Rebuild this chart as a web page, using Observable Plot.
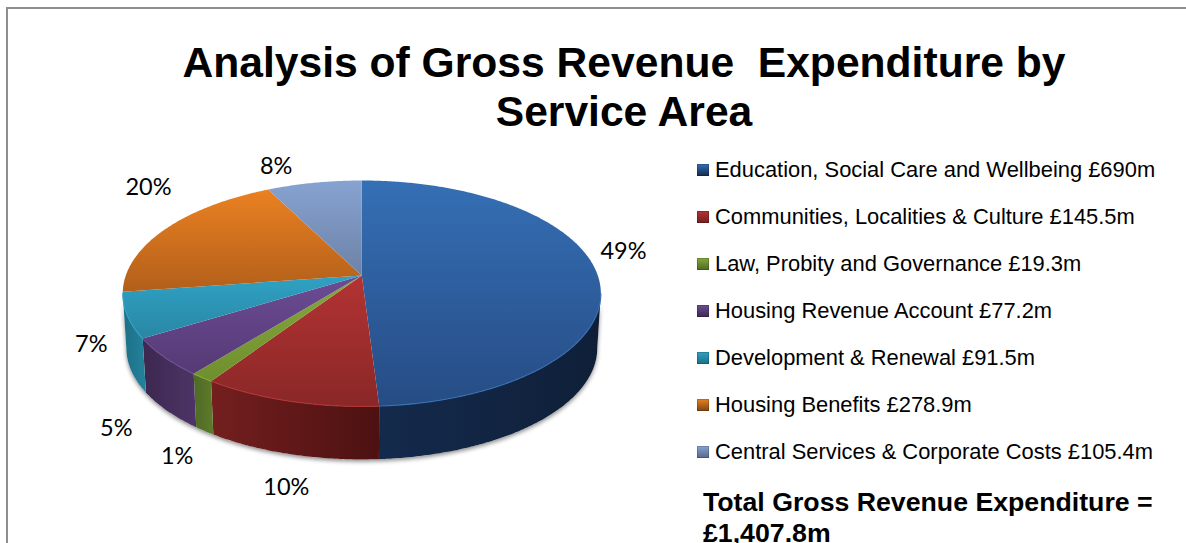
<!DOCTYPE html>
<html><head><meta charset="utf-8">
<script src="https://cdn.jsdelivr.net/npm/d3@7"></script>
<script src="https://cdn.jsdelivr.net/npm/@observablehq/plot@0.6"></script>
<style>
html,body{margin:0;padding:0;background:#fff;overflow:hidden}
#page{position:relative;width:1186px;height:543px;overflow:hidden;font-family:"Liberation Sans",Arial,sans-serif;color:#000}
#frame{position:absolute;left:6px;top:7px;width:1200px;height:600px;border:2px solid #8e8e8e;box-sizing:border-box}
#title{position:absolute;left:64px;width:1120px;top:38px;text-align:center;font-weight:bold;font-size:42.6px;line-height:49px;white-space:pre}
#chart{position:absolute;left:0;top:130px}
#legend{position:absolute;left:697px;top:146px;font-size:21.9px}
.row{display:flex;align-items:center;height:47px;white-space:pre}
.sw{width:12px;height:12px;margin-right:6px;flex:none;box-shadow:inset 0 0 0 1px rgba(0,0,0,.18)}
#total{position:absolute;left:703px;top:487px;font-weight:bold;font-size:26.7px;line-height:31px;white-space:pre}
</style></head><body>
<div id="page"><div id="frame"></div>
<div id="title"></div><div id="chart"></div><div id="legend"></div><div id="total"></div></div>
<script>
const titleLines = ["Analysis of Gross Revenue  Expenditure by", "Service Area"];
const categories = ["Education, Social Care and Wellbeing","Communities, Localities & Culture","Law, Probity and Governance","Housing Revenue Account","Development & Renewal","Housing Benefits","Central Services & Corporate Costs"];
const valueLabels = ["£690m","£145.5m","£19.3m","£77.2m","£91.5m","£278.9m","£105.4m"];
const values = [690,145.5,19.3,77.2,91.5,278.9,105.4];
const percentLabels = ["49%","10%","1%","5%","7%","20%","8%"];
const totalLines = ["Total Gross Revenue Expenditure =","£1,407.8m"];

// styles
const topColors = [["#356fb5","#264c84"],["#b33333","#8a2727"],["#85a83b","#6f8f2e"],["#6c4c95","#553a75"],["#2fa2c4","#2a86a4"],["#ea8122","#b25f1a"],["#87a3d2","#6d82a6"]];
const wallColors = [["#142a4c","#0f1f38"],["#741f1f","#4d1111"],["#4f6a24","#5e7a2b"],["#3c2850","#4e3466"],["#1c6f86","#25829c"],["#7c4512","#8c5015"],["#56688a","#5e7194"]];
const labelNudge = [[27,-21],[-3,86],[-25,79],[-48,71],[-36,29],[-18,-41],[-38,-16]];

// layout of the perspective disc
const W = 660, H = 413, cx = 361.3, cy = 145;
const R = 236, A = 110.1, K = 0.159, S = 0.985, D = 55;
const total = d3.sum(values);
const proj = t => { const u = Math.sin(t), v = -Math.cos(t), d = 1 - K*v; return [R*u/d, A*v/d]; };
let cum = 0;
const slices = values.map((v,i) => { const a0 = cum/total*2*Math.PI; cum += v; return {i, a0, a1: cum/total*2*Math.PI}; });
const sample = (a0,a1) => { const n = Math.max(2, Math.ceil((a1-a0)/0.01)); return d3.range(n+1).map(j => a0 + (a1-a0)*j/n); };
const wallLo = Math.PI - Math.acos(K), wallHi = Math.PI + Math.acos(K);

const topFace = s => [[0,0], ...sample(s.a0,s.a1).map(proj)];
const arcIn = s => { const a0 = Math.max(s.a0,wallLo), a1 = Math.min(s.a1,wallHi); return a1 > a0 ? sample(a0,a1) : null; };
const wall = s => { const t = arcIn(s); if (!t) return null; const p = t.map(proj);
  return [...p, ...p.slice().reverse().map(([x,y]) => [x*S, y*S + D])]; };

const defs = () => {
  const svgns = "http://www.w3.org/2000/svg", d = document.createElementNS(svgns,"defs");
  const grad = (id,[c0,c1],horizontal) => { const g = document.createElementNS(svgns,"linearGradient");
    g.setAttribute("id",id); g.setAttribute("x1",0); g.setAttribute("y1",0);
    g.setAttribute("x2",horizontal?1:0); g.setAttribute("y2",horizontal?0:1);
    [[0,c0],[1,c1]].forEach(([o,c]) => { const st = document.createElementNS(svgns,"stop"); st.setAttribute("offset",o); st.setAttribute("stop-color",c); g.appendChild(st); });
    d.appendChild(g); };
  topColors.forEach((c,i) => grad("top"+i,c,false));
  wallColors.forEach((c,i) => grad("wall"+i,c,true));
  return d;
};
const polygon = (pts,fill,extra={}) => Plot.line(pts,{x:d=>d[0],y:d=>d[1],fill,stroke:"none",curve:"linear",...extra});

// under-shadow: the whole wall band with a soft shadow
const band = sample(wallLo,wallHi).map(proj);
const shadow = [...band, ...band.slice().reverse().map(([x,y]) => [x*S,y*S+D])];

const labels = slices.map(s => { const m = (s.a0+s.a1)/2, [x,y] = proj(m), [nx,ny] = labelNudge[s.i];
  return {x:x+nx, y:y+ny, text:percentLabels[s.i]}; });

const marks = [
  defs,
  polygon(shadow,"#ffffff",{imageFilter:"drop-shadow(0px 2px 2px rgba(0,0,0,.45))"}),
  ...slices.filter(wall).map(s => polygon(wall(s),`url(#wall${s.i})`)),
  ...slices.map(s => polygon(topFace(s),`url(#top${s.i})`)),
  // rim highlight along the front of the disc
  ...slices.map(s => { const t = arcIn(s); return t ? Plot.line(t.map(proj),{x:d=>d[0],y:d=>d[1],stroke:topColors[s.i][0],strokeWidth:1.2,strokeOpacity:.9}) : null; }),
  Plot.text(labels,{x:"x",y:"y",text:"text",fontSize:23.5,fontFamily:"Lato, 'Open Sans', sans-serif",fill:"#000"})
];
const chart = Plot.plot({
  width:W,height:H,margin:0,
  x:{domain:[-cx,W-cx],range:[0,W],axis:null},
  y:{domain:[-cy,H-cy],range:[0,H],axis:null},
  style:{background:"transparent",overflow:"visible"},
  marks
});
document.getElementById("chart").appendChild(chart);
document.getElementById("title").textContent = titleLines.join("\n");
document.getElementById("total").textContent = totalLines.join("\n");
const leg = document.getElementById("legend");
categories.forEach((c,i) => { const r = document.createElement("div"); r.className="row";
  const sw = document.createElement("span"); sw.className="sw";
  sw.style.background = `linear-gradient(${topColors[i][0]},${wallColors[i][0]})`;
  const t = document.createElement("span"); t.textContent = `${c} ${valueLabels[i]}`;
  r.append(sw,t); leg.appendChild(r); });
</script></body></html>
